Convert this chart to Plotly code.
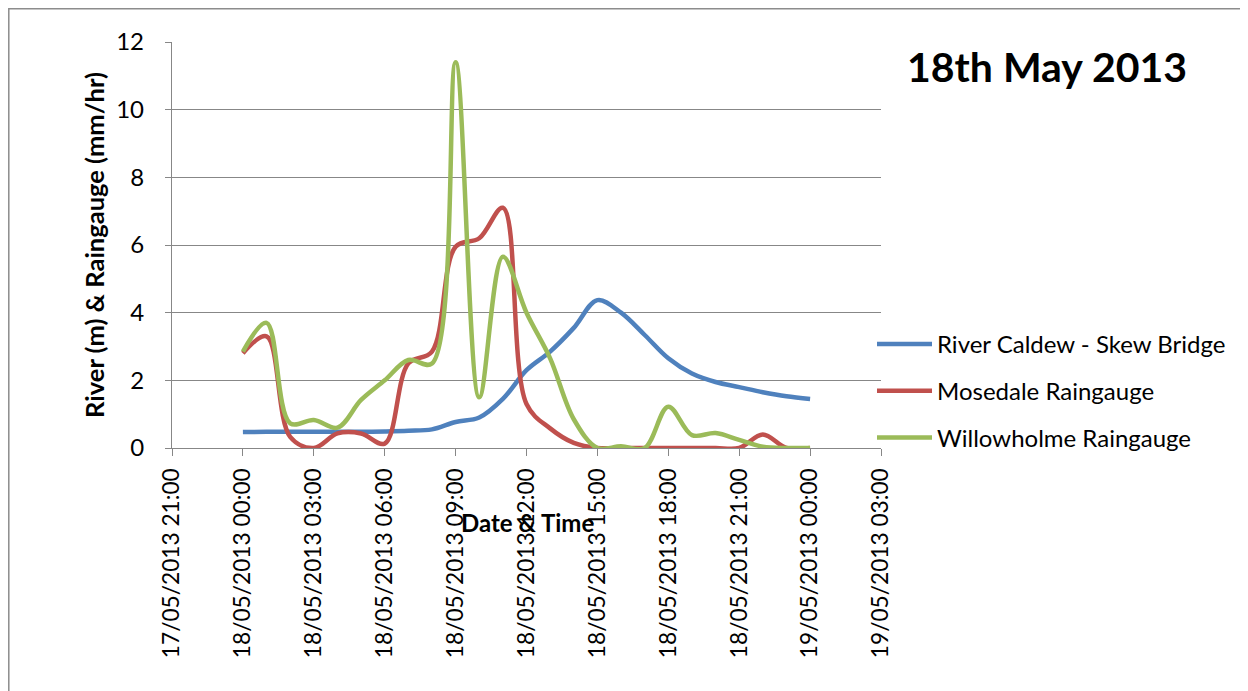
import plotly.graph_objects as go

# ---- data ----
times = ["2013-05-18 00:00", "2013-05-18 01:00", "2013-05-18 02:00", "2013-05-18 03:00",
         "2013-05-18 04:00", "2013-05-18 05:00", "2013-05-18 06:00", "2013-05-18 07:00",
         "2013-05-18 08:00", "2013-05-18 09:00", "2013-05-18 10:00", "2013-05-18 11:00",
         "2013-05-18 12:00", "2013-05-18 13:00", "2013-05-18 14:00", "2013-05-18 15:00",
         "2013-05-18 16:00", "2013-05-18 17:00", "2013-05-18 18:00", "2013-05-18 19:00",
         "2013-05-18 20:00", "2013-05-18 21:00", "2013-05-18 22:00", "2013-05-18 23:00",
         "2013-05-19 00:00"]
river_caldew = [0.47, 0.48, 0.48, 0.48, 0.48, 0.48, 0.49, 0.51, 0.55, 0.77, 0.90, 1.45,
                2.30, 2.85, 3.55, 4.37, 4.00, 3.34, 2.65, 2.20, 1.95, 1.80, 1.65, 1.53, 1.45]
mosedale = [2.80, 3.30, 0.33, 0.00, 0.43, 0.43, 0.13, 2.50, 2.85, 5.95, 6.20, 7.10,
            1.30, 0.58, 0.15, 0.00, 0.00, 0.00, 0.00, 0.00, 0.00, 0.00, 0.40, 0.00, 0.00]
willowholme = [2.85, 3.70, 0.73, 0.83, 0.60, 1.42, 2.00, 2.60, 2.50, 11.40, 1.50, 5.65,
               4.00, 2.65, 0.85, 0.00, 0.05, 0.00, 1.22, 0.38, 0.44, 0.24, 0.04, 0.00, 0.00]
series_names = ["River Caldew - Skew Bridge", "Mosedale Raingauge", "Willowholme Raingauge"]
series_colors = ["#4F81BD", "#C0504D", "#9BBB59"]
x_range = ["2013-05-17 21:00", "2013-05-19 03:00"]
y_ticks = [0, 2, 4, 6, 8, 10, 12]

# ---- layout geometry (reference-window pixels; page body has an 8px margin) ----
OFF = 8
W, H = 1248 - OFF, 691 - OFF
PL, PR, PT, PB = 172 - OFF, 881 - OFF, 42 - OFF, 448 - OFF


def px(x):
    return (x - OFF - PL) / (PR - PL)


def py(y):
    return (PB - (y - OFF)) / (PB - PT)


FONT = "Lato"
fig = go.Figure()
for name, vals, col in zip(series_names, [river_caldew, mosedale, willowholme], series_colors):
    fig.add_trace(go.Scatter(
        x=times, y=vals, name=name, mode="lines", legendgroup=name,
        line=dict(color=col, width=4.5, shape="spline", smoothing=1.0),
    ))

grid = "#878787"
fig.update_layout(
    width=W, height=H,
    margin=dict(l=PL, r=W - PR, t=PT, b=H - PB, autoexpand=False),
    paper_bgcolor="white", plot_bgcolor="white",
    font=dict(family=FONT, color="black", size=24),
    showlegend=True,
    legend=dict(x=px(872), y=py(391), xanchor="left", yanchor="middle",
                font=dict(family=FONT, size=24, color="black"),
                tracegroupgap=12.5, bgcolor="rgba(0,0,0,0)", itemwidth=55),
    xaxis=dict(type="date", range=x_range, tick0=x_range[0], dtick=3 * 3600 * 1000,
               tickformat="%d/%m/%Y %H:%M", tickangle=-90,
               showgrid=False, showline=True, linecolor=grid, linewidth=1.3,
               ticks="outside", ticklen=7, tickcolor=grid, tickwidth=1.3,
               tickfont=dict(family=FONT, size=22.7, color="black"),
               ticklabelstandoff=3, zeroline=False, fixedrange=True),
    yaxis=dict(range=[0, 12], tickvals=y_ticks, showgrid=True, gridcolor=grid, gridwidth=1.3,
               showline=True, linecolor=grid, linewidth=1.3, zeroline=False,
               ticks="outside", ticklen=6, tickcolor=grid, tickwidth=1.3,
               tickfont=dict(family=FONT, size=24, color="black"),
               ticklabelstandoff=16,
               title=dict(text="<b>River (m) & Raingauge (mm/hr)</b>",
                          font=dict(family=FONT, size=25.5, color="black"), standoff=4)),
)

# title
fig.add_annotation(text="<b>18th May 2013</b>", x=px(1047), y=py(66), xref="paper", yref="paper",
                   xanchor="center", yanchor="middle", showarrow=False,
                   font=dict(family=FONT, size=41, color="black"))
# x axis title (overlapping tick labels, as in original)
fig.add_annotation(text="<b>Date & Time</b>", x=px(527), y=py(522), xref="paper", yref="paper",
                   xanchor="center", yanchor="middle", showarrow=False,
                   font=dict(family=FONT, size=24, color="black"))
# chart-area border
fig.add_shape(type="rect", xref="paper", yref="paper",
              x0=px(8.8), x1=px(1300), y0=py(740), y1=py(8.8),
              line=dict(color="#8c8c8c", width=1.5), fillcolor="rgba(0,0,0,0)", layer="below")

fig.write_html("out.html")
